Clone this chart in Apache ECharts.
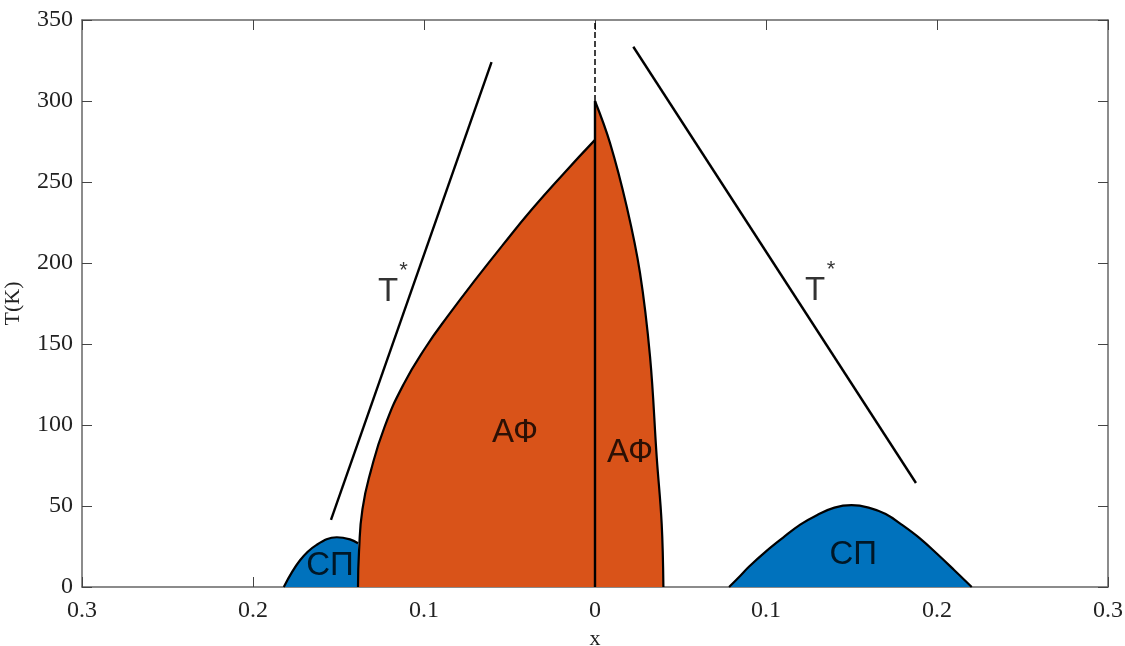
<!DOCTYPE html>
<html>
<head>
<meta charset="utf-8">
<script src="https://cdn.jsdelivr.net/npm/echarts@6/dist/echarts.min.js"></script>
<style>
  html, body { margin: 0; padding: 0; background: #fff; }
  #chart { width: 1125px; height: 646px; }
</style>
</head>
<body>
<div id="chart"></div>
<script>
// Phase diagram T(x): antiferromagnetic (АФ) and superconducting (СП) domes, pseudogap T* lines.
// Negative x = hole side, positive x = electron side; axis labels show |x|.

const xTicks = [-0.3, -0.2, -0.1, 0, 0.1, 0.2, 0.3];
const yTicks = [0, 50, 100, 150, 200, 250, 300, 350];

// left antiferromagnetic boundary [x, T]
const afLeft = [
  [-0.1386, 0], [-0.1380, 22], [-0.1360, 48], [-0.1310, 72],
  [-0.1230, 99], [-0.1120, 125], [-0.0990, 148], [-0.0848, 169],
  [-0.0697, 190], [-0.0540, 211], [-0.0370, 233], [-0.0185, 255], [0, 276]
];
// right antiferromagnetic boundary [x, T]
const afRight = [
  [0, 300], [0.0088, 274], [0.0185, 235], [0.0263, 194], [0.0322, 142],
  [0.0361, 80], [0.0390, 39], [0.0400, 0]
];
// left superconducting dome [x, T]
const scLeft = [
  [-0.1820, 0], [-0.1725, 16.5], [-0.1628, 26], [-0.1510, 30.7],
  [-0.1433, 29.4], [-0.1386, 27]
];
// right superconducting dome [x, T]
const scRight = [
  [0.0784, 0], [0.0850, 7], [0.0900, 12.5], [0.1000, 22], [0.1100, 30.5],
  [0.1200, 38.5], [0.1300, 44.5], [0.1400, 49], [0.1500, 50.5], [0.1600, 49],
  [0.1700, 45], [0.1800, 38], [0.1900, 30], [0.2000, 20.5], [0.2100, 10.5],
  [0.2203, 0]
];
// pseudogap crossover lines T*
const tStarLeft = [[-0.1544, 41.4], [-0.0605, 324]];
const tStarRight = [[0.0224, 333.5], [0.1877, 64.2]];
// x = 0 boundaries
const centerSolid = [[0, 0], [0, 300]];
const centerDashed = [[0, 300], [0, 350]];

// region labels [x, T, text]
const labels = [
  [-0.121, 182, 'T'], [-0.0468, 95, 'АФ'], [0.0205, 83, 'АФ'],
  [-0.155, 13, 'СП'], [0.151, 20, 'СП'], [0.1287, 183, 'T']
];
const stars = [[-0.112, 195, '*'], [0.138, 196, '*']];

const AF_COLOR = '#D95319';
const SC_COLOR = '#0072BD';
const EDGE = '#000000';
const serif = '"Liberation Serif", "DejaVu Serif", serif';
const sans = '"Liberation Sans", Arial, sans-serif';

function fmtAbs(v) {
  const r = Math.abs(Math.round(v * 10) / 10);
  return r === 0 ? '0' : r.toFixed(1);
}

function region(data, color, smooth) {
  return {
    type: 'line', data, symbol: 'none', smooth: smooth, z: 2,
    lineStyle: { color: EDGE, width: 2.2 },
    areaStyle: { color, opacity: 1, origin: 'start' }
  };
}
function segment(data, type) {
  return {
    type: 'line', data, symbol: 'none', z: 3,
    lineStyle: { color: EDGE, width: type === 'dashed' ? 1.5 : 2.4, type: type || 'solid' }
  };
}

const axisLineStyle = { color: '#666', width: 1.5 };
const tickStyle = { color: '#444', width: 1 };
const tickFont = { fontFamily: serif, fontSize: 24, color: '#222' };

const option = {
  animation: false,
  backgroundColor: '#fff',
  grid: { left: 82, right: 17, top: 20, bottom: 59, containLabel: false, outerBoundsMode: 'none' },
  xAxis: [
    {
      type: 'value', min: -0.3, max: 0.3, interval: 0.1, position: 'bottom',
      name: 'x', nameLocation: 'middle', nameGap: 35,
      nameTextStyle: { fontFamily: serif, fontSize: 22, color: '#222' },
      axisLine: { show: true, onZero: false, lineStyle: axisLineStyle },
      axisTick: { show: true, inside: true, length: 10, lineStyle: tickStyle },
      axisLabel: Object.assign({ formatter: fmtAbs, margin: 12 }, tickFont),
      splitLine: { show: false }
    },
    {
      type: 'value', min: -0.3, max: 0.3, interval: 0.1, position: 'top',
      axisLine: { show: true, onZero: false, lineStyle: axisLineStyle },
      axisTick: { show: true, inside: true, length: 10, lineStyle: tickStyle },
      axisLabel: { show: false }, splitLine: { show: false }
    }
  ],
  yAxis: [
    {
      type: 'value', min: 0, max: 350, interval: 50, position: 'left',
      name: 'T(K)', nameLocation: 'middle', nameGap: 58, nameRotate: 90,
      nameTextStyle: { fontFamily: serif, fontSize: 22, color: '#222' },
      axisLine: { show: true, onZero: false, lineStyle: axisLineStyle },
      axisTick: { show: true, inside: true, length: 10, lineStyle: tickStyle },
      axisLabel: Object.assign({ margin: 9,
        formatter: v => yTicks.includes(v) ? String(v) : '' }, tickFont),
      splitLine: { show: false }
    },
    {
      type: 'value', min: 0, max: 350, interval: 50, position: 'right',
      axisLine: { show: true, onZero: false, lineStyle: axisLineStyle },
      axisTick: { show: true, inside: true, length: 10, lineStyle: tickStyle },
      axisLabel: { show: false }, splitLine: { show: false }
    }
  ],
  series: [
    region(scLeft, SC_COLOR, 0.4),
    region(scRight, SC_COLOR, 0.4),
    region(afLeft, AF_COLOR, 0.5),
    region(afRight, AF_COLOR, 0.4),
    segment(centerSolid),
    segment(centerDashed, 'dashed'),
    segment(tStarLeft),
    segment(tStarRight),
    {
      type: 'scatter', symbolSize: 0, z: 5,
      data: labels.map(l => ({ value: [l[0], l[1]], name: l[2] })),
      label: {
        show: true, position: 'inside', formatter: p => p.name,
        fontFamily: sans, fontSize: 33, color: '#000'
      }
    },
    {
      type: 'scatter', symbolSize: 0, z: 5,
      data: stars.map(l => ({ value: [l[0], l[1]], name: l[2] })),
      label: {
        show: true, position: 'inside', formatter: p => p.name,
        fontFamily: sans, fontSize: 22, color: '#000'
      }
    }
  ]
};

const chart = echarts.init(document.getElementById('chart'), null, { renderer: 'canvas' });
chart.setOption(option);
</script>
</body>
</html>
